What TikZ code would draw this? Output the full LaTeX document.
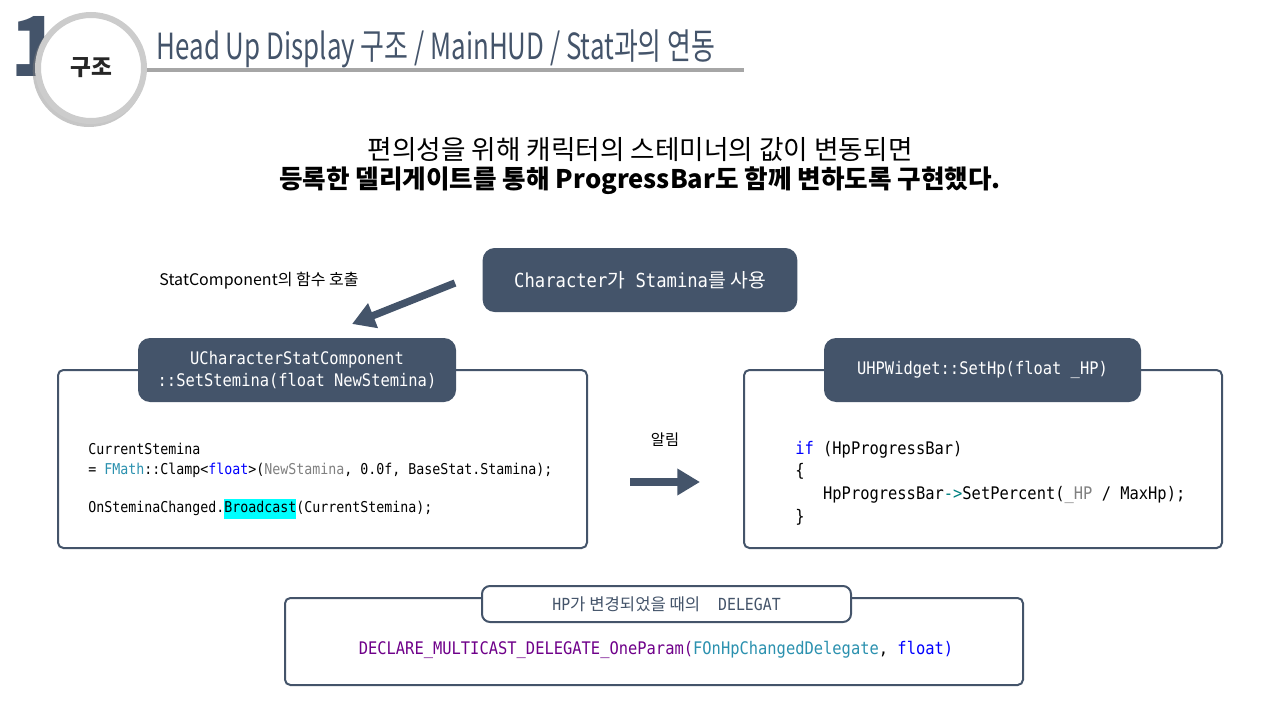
\documentclass[tikz,border=0pt]{standalone}
\usepackage{fontspec}
\setmainfont{Noto Sans CJK KR}
\newfontfamily\codefont[FakeStretch=0.89]{DejaVu Sans Mono}
\newfontfamily\krfont{Noto Sans CJK KR}
\newfontfamily\titlefont[FakeStretch=0.72]{Noto Sans CJK KR}
\newcommand\kr[1]{{\krfont #1}}
\setlength{\fboxsep}{0pt}
\usetikzlibrary{arrows.meta,shapes,shadows}

\begin{document}
\begin{tikzpicture}[x=0.75pt,y=-0.75pt,>=Stealth]

\definecolor{slate}{HTML}{44546A} % office text 2
\definecolor{rulegray}{HTML}{A6A6A6} % light grey
\definecolor{kwblue}{HTML}{0000FF} % keyword blue
\definecolor{typecyan}{HTML}{2B91AF} % type cyan
\definecolor{paramgray}{HTML}{808080} % parameter grey
\definecolor{macropurple}{HTML}{6F008A} % macro purple
\definecolor{opteal}{HTML}{008080} % operator teal
\definecolor{hilite}{HTML}{00FFFF} % highlight

\tikzstyle{hdr}=[rectangle,rounded corners=9pt,fill=slate,text=white,
	align=center,font=\codefont\fontsize{13}{17}\selectfont]
\tikzstyle{codebox}=[rectangle,rounded corners=4pt,draw=slate,
	line width=1.5pt,fill=white]
\tikzstyle{code}=[inner sep=0pt,align=left,anchor=west]
\tikzstyle{bigarrow}=[-{Triangle[length=17pt,width=19pt]},draw=slate,
	line width=5.5pt]

  \useasboundingbox (0,0) rectangle (1280,720);

  %% title bar
  \node (one) at (36,46) [text=slate,font=\bfseries\fontsize{62}{62}\selectfont] {1};

  \coordinate (rulestart) at (120,70);
  \coordinate (ruleend) at (744,70);
  \draw [rulegray,line width=3pt] (rulestart) -- (ruleend);

  \node (badge) at (91,68) [circle,minimum size=79.5pt,fill=white,
         draw=gray!40,line width=4.5pt,
         drop shadow={shadow xshift=-1.5pt,shadow yshift=-2pt,shadow scale=1.06,opacity=.45},
         text=black!85,font=\bfseries\fontsize{17}{20}\selectfont] {구조};

  \node (title) at (152,60) [anchor=base west,text=slate,
         font=\titlefont\fontsize{27}{30}\selectfont]
         {Head Up Display 구조 / MainHUD / Stat과의 연동};

  \node (lead) at (640,150) [font=\fontsize{20}{24}\selectfont]
         {편의성을 위해 캐릭터의 스테미너의 값이 변동되면};
  \node (leadbold) at (640,181) [font=\bfseries\fontsize{19.2}{24}\selectfont]
         {등록한 델리게이트를 통해 ProgressBar도 함께 변하도록 구현했다.};

  %% stamina use
  \node (use) at (640,280) [hdr,minimum width=236pt,minimum height=48pt,
         font=\codefont\fontsize{14.5}{17}\selectfont]
         {Character\kr{가} Stamina\kr{를 사용}};

  \node (calllabel) at (259,281) [font=\fontsize{12}{14}\selectfont]
         {StatComponent의 함수 호출};

  \coordinate (callstart) at (455,283);
  \coordinate (calltip) at (352,324);

  %% stat component
  \node (statbox) at (322.5,459) [codebox,minimum width=396.75pt,minimum height=133.5pt] {};
  \node (stathdr) at (297,370) [hdr,minimum width=238.5pt,minimum height=48pt]
         {UCharacterStatComponent\\::SetStemina(float NewStemina)};
  \node (statcode) at (88,481) [code,font=\codefont\fontsize{11.2}{14.5}\selectfont]
         {CurrentStemina\\
          = \textcolor{typecyan}{FMath}::Clamp<\textcolor{kwblue}{float}>(\textcolor{paramgray}{NewStamina}, 0.0f, BaseStat.Stamina);\\[14.5pt]
          OnSteminaChanged.\colorbox{hilite}{\strut Broadcast}(CurrentStemina);};

  %% hp widget
  \node (hpbox) at (983,459) [codebox,minimum width=358.5pt,minimum height=133.5pt] {};
  \node (hphdr) at (982.5,370) [hdr,minimum width=237.75pt,minimum height=48pt]
         {UHPWidget::SetHp(float \_HP)};
  \node (hpcode) at (795,483) [code,font=\codefont\fontsize{13}{17}\selectfont]
         {\textcolor{kwblue}{if} (HpProgressBar)\\
          \{\\
          \phantom{xxx}HpProgressBar\textcolor{opteal}{->}SetPercent(\textcolor{paramgray}{\_HP} / MaxHp);\\
          \}};

  \node (notify) at (665,440) [font=\fontsize{11.5}{14}\selectfont] {알림};
  \coordinate (notifyfrom) at (630,482);
  \coordinate (notifyto) at (700,482);

  %% delegate
  \node (delbox) at (654,641.5) [codebox,minimum width=553.5pt,minimum height=65.25pt] {};
  \node (delhdr) at (666.5,604) [codebox,rounded corners=6pt,minimum width=276.75pt,
         minimum height=27pt,text=slate,font=\codefont\fontsize{12.5}{14}\selectfont]
         {HP\kr{가 변경되었을 때의}\ \ DELEGAT};
  \node (delcode) at (656,650) [font=\codefont\fontsize{13}{17}\selectfont]
         {\textcolor{macropurple}{DECLARE\_MULTICAST\_DELEGATE\_OneParam(}\textcolor{typecyan}{FOnHpChangedDelegate}, \textcolor{kwblue}{float)}};

  \path (callstart) edge [bigarrow] (calltip)
        (notifyfrom) edge [bigarrow,line width=6pt] (notifyto);

\end{tikzpicture}
\end{document}
